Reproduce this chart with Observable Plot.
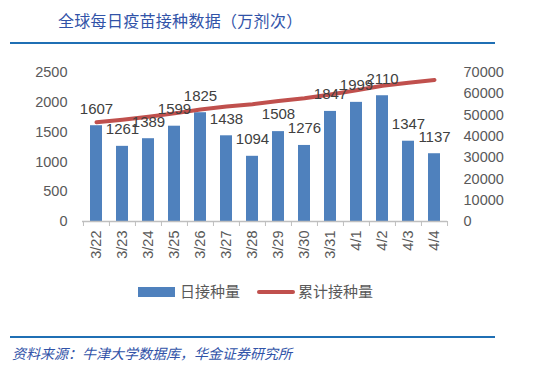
<!DOCTYPE html>
<html>
<head>
<meta charset="utf-8">
<script src="https://cdn.jsdelivr.net/npm/d3@7"></script>
<script src="https://cdn.jsdelivr.net/npm/@observablehq/plot@0.6"></script>
<style>
  html, body { margin: 0; padding: 0; background: #fff; }
  #wrap { position: relative; width: 557px; height: 371px; overflow: hidden; font-family: "Liberation Sans", "Noto Sans CJK SC", sans-serif; }
  #wrap svg { position: absolute; left: 0; top: 0; }
  .title { position: absolute; left: 58px; top: 8px; font-size: 16px; color: #3153a8; font-family: "Noto Sans CJK SC", sans-serif; letter-spacing: 0.3px; }
  .rule { position: absolute; left: 10px; width: 485px; height: 2px; background: #1f6fb4; }
  .legend { position: absolute; top: 281px; font-size: 15px; color: #595959; font-family: "Noto Sans CJK SC", sans-serif; line-height: 20px; }
  .swatch-bar { position: absolute; left: 138px; top: 287px; width: 37px; height: 10px; background: #4f81bd; }
  .swatch-line { position: absolute; left: 257px; top: 290px; width: 38px; height: 4px; border-radius: 2px; background: #c0504d; }
  .caption { position: absolute; left: 12px; top: 343px; font-size: 14px; font-style: italic; color: #3153a8; font-family: "Noto Sans CJK SC", sans-serif; }
</style>
</head>
<body>
<div id="wrap">
  <div class="title">全球每日疫苗接种数据（万剂次）</div>
  <div class="rule" style="top:42px"></div>
  <div class="swatch-bar"></div>
  <div class="legend" style="left:180px">日接种量</div>
  <div class="swatch-line"></div>
  <div class="legend" style="left:298px">累计接种量</div>
  <div class="rule" style="top:336px"></div>
  <div class="caption">资料来源：牛津大学数据库，华金证券研究所</div>
</div>
<script>
const dates = ["3/22","3/23","3/24","3/25","3/26","3/27","3/28","3/29","3/30","3/31","4/1","4/2","4/3","4/4"];
const daily = [1607,1261,1389,1599,1825,1438,1094,1508,1276,1847,1999,2110,1347,1137];
const cumulative = [46600,47800,49200,50800,52600,54000,55100,56600,57900,59700,61700,63800,65200,66500];
const leftTicks = [0,500,1000,1500,2000,2500];
const rightMax = 70000;
const leftMax = 2500;

const data = dates.map((d, i) => ({date: d, daily: daily[i], cum: cumulative[i]}));
const ratio = leftMax / rightMax;

const W = 557, H = 271, mL = 82, mR = 110, mT = 72, mB = 50;
const step = (W - mL - mR) / dates.length;
const axisColor = "#595959";

const chart = Plot.plot({
  width: W, height: H,
  marginLeft: mL, marginRight: mR, marginTop: mT, marginBottom: mB,
  style: {fontFamily: "Liberation Sans, sans-serif", fontSize: "14.5px", color: axisColor, background: "transparent"},
  x: {type: "band", domain: dates, padding: 0},
  y: {domain: [0, leftMax]},
  marks: [
    Plot.barY(data, {x: "date", y: "daily", fill: "#4f81bd", insetLeft: 7, insetRight: 7}),
    Plot.ruleY([0], {stroke: "#bfbfbf", strokeWidth: 1.3}),
    Plot.axisX({tickSize: 5, fill: "none", stroke: "#bfbfbf", dx: -step / 2}),
    Plot.axisX([dates[dates.length - 1]], {tickSize: 5, fill: "none", stroke: "#bfbfbf", dx: step / 2}),
    Plot.axisX({tickSize: 0, tickPadding: 9, tickRotate: -90, fill: axisColor, label: null, fontSize: "14.5px"}),
    Plot.axisY(leftTicks, {anchor: "left", tickSize: 0, tickPadding: 15, fill: axisColor, label: null, tickFormat: d => String(d)}),
    Plot.axisY(d3.range(0, 8).map(k => k * 10000 * ratio), {anchor: "right", tickSize: 0, tickPadding: 16, fill: axisColor, label: null, tickFormat: d => String(Math.round(d / ratio))}),
    Plot.line(data, {x: "date", y: d => d.cum * ratio, stroke: "#c0504d", strokeWidth: 4, strokeLinecap: "round"}),
    Plot.text(data, {x: "date", y: "daily", text: d => String(d.daily), dy: -17, fill: "#404040", fontSize: 15})
  ]
});
document.getElementById("wrap").prepend(chart);
</script>
</body>
</html>
